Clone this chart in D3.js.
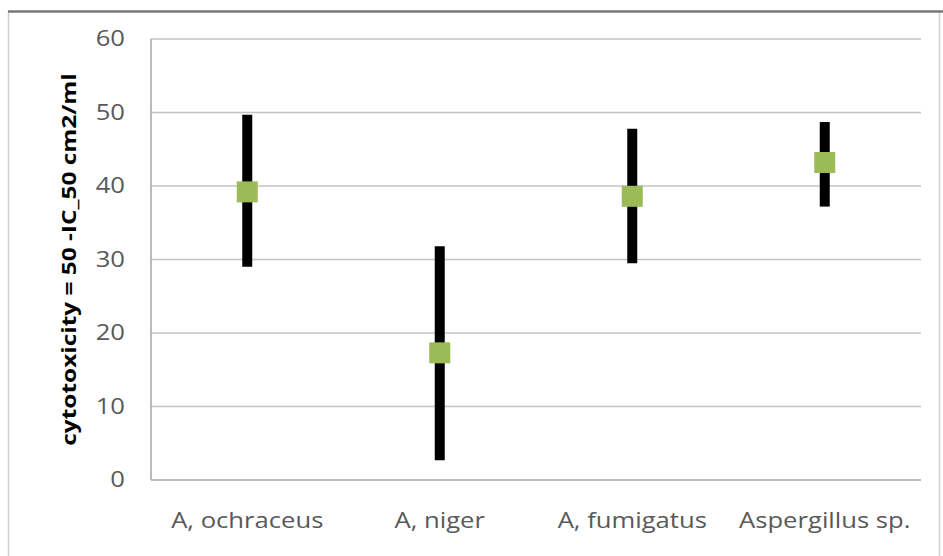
<!DOCTYPE html>
<html><head><meta charset="utf-8">
<script src="https://cdn.jsdelivr.net/npm/d3@7"></script>
<style>body{margin:0;background:#fff}svg{display:block}</style>
</head><body>
<script>
const categories = ["A, ochraceus", "A, niger", "A, fumigatus", "Aspergillus sp."];
const means = [39.2, 17.3, 38.6, 43.2];
const highs = [49.7, 31.8, 47.8, 48.7];
const lows  = [29.0, 2.7, 29.5, 37.2];
const yTicks = [0, 10, 20, 30, 40, 50, 60];
const yLabel = "cytotoxicity = 50 -IC_50 cm2/ml";

const W = 943, H = 556;
const m = {left: 151, right: 22, top: 39, bottom: 76};
const FONT = "'Open Sans', Lato, sans-serif";
const STRETCH = 1.22;
const svg = d3.select("body").append("svg").attr("width", W).attr("height", H);

function widen(sel, k) {
  sel.each(function() {
    const w = this.getComputedTextLength();
    d3.select(this).attr("textLength", w * k).attr("lengthAdjust", "spacingAndGlyphs");
  });
}

// outer frame
svg.append("rect").attr("x", 8.5).attr("y", 11.5).attr("width", 931).attr("height", 560)
  .attr("fill", "#fff").attr("stroke", "#d0d0d0").attr("stroke-width", 1.5);
svg.append("line").attr("x1", 8).attr("x2", 943).attr("y1", 11.5).attr("y2", 11.5)
  .attr("stroke", "#7a7a7a").attr("stroke-width", 2.5);

const x = d3.scaleBand().domain(categories).range([m.left, W - m.right]);
const y = d3.scaleLinear().domain([0, 60]).range([H - m.bottom, m.top]);

// gridlines
svg.append("g").selectAll("line").data(yTicks).join("line")
  .attr("x1", m.left).attr("x2", W - m.right)
  .attr("y1", d => y(d)).attr("y2", d => y(d))
  .attr("stroke", d => d === 0 ? "#a6a6a6" : "#c4c4c4").attr("stroke-width", 1.5);
svg.append("line").attr("x1", m.left).attr("x2", m.left).attr("y1", y(60)).attr("y2", y(0))
  .attr("stroke", "#a6a6a6").attr("stroke-width", 1.5);

// y axis labels
const yAxis = d3.axisLeft(y).tickValues(yTicks).tickSize(0).tickPadding(26);
const gy = svg.append("g").attr("transform", `translate(${m.left},0)`).call(yAxis);
gy.select(".domain").remove();
gy.selectAll("text").attr("font-family", FONT).attr("font-size", 21)
  .attr("fill", "#595959").call(widen, STRETCH);

// x axis labels
const xAxis = d3.axisBottom(x).tickSize(0).tickPadding(33);
const gx = svg.append("g").attr("transform", `translate(0,${y(0)})`).call(xAxis);
gx.select(".domain").remove();
gx.selectAll("text").attr("font-family", FONT).attr("font-size", 21)
  .attr("fill", "#595959").call(widen, STRETCH);

// y title
svg.append("text").attr("transform", `translate(68,${(y(0)+y(60))/2}) rotate(-90)`)
  .attr("text-anchor", "middle").attr("dominant-baseline", "central")
  .attr("font-family", FONT).attr("font-weight", "bold")
  .attr("font-size", 20).attr("fill", "#000").text(yLabel).call(widen, 1.22);

// high-low bars
const data = categories.map((c, i) => ({c, mean: means[i], hi: highs[i], lo: lows[i]}));
svg.append("g").selectAll("line").data(data).join("line")
  .attr("x1", d => x(d.c) + x.bandwidth()/2).attr("x2", d => x(d.c) + x.bandwidth()/2)
  .attr("y1", d => y(d.hi)).attr("y2", d => y(d.lo))
  .attr("stroke", "#000").attr("stroke-width", 10);

// markers
const ms = 21;
svg.append("g").selectAll("rect").data(data).join("rect")
  .attr("x", d => x(d.c) + x.bandwidth()/2 - ms/2).attr("y", d => y(d.mean) - ms/2)
  .attr("width", ms).attr("height", ms).attr("fill", "#9bbb59");
</script>
</body></html>
